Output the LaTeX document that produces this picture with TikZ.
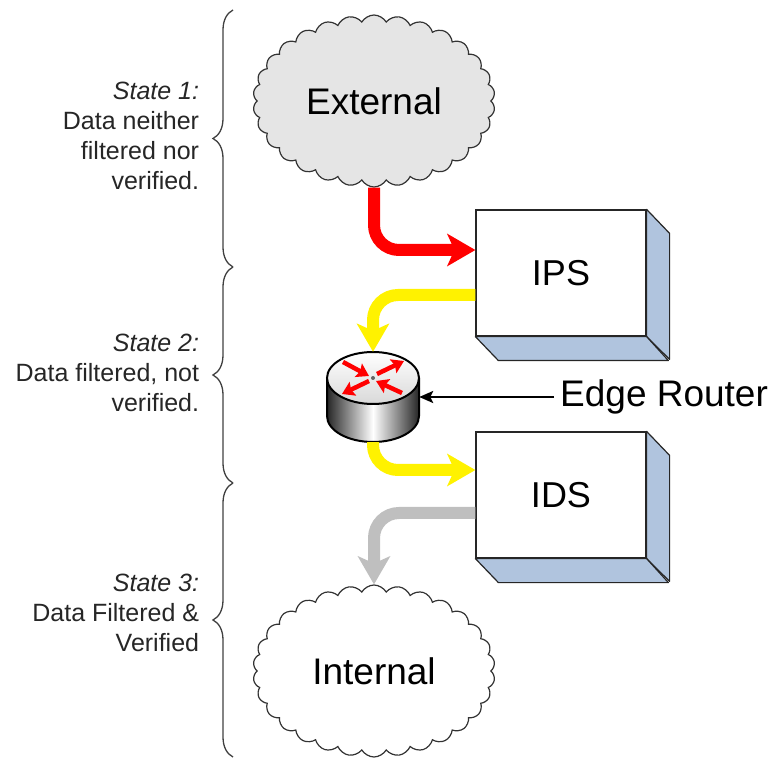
\documentclass[tikz,border=0pt]{standalone}
\usepackage{fontspec}
\setmainfont{Liberation Sans}
\usepackage{xcolor}
\usetikzlibrary{positioning,shapes.symbols,arrows.meta,decorations.pathreplacing}
\definecolor{steel}{HTML}{B0C4DE}

\begin{document}
\begin{tikzpicture}[x=1pt,y=-1pt,inner sep=2mm]
        \tikzset{cloudnode/.style={cloud,cloud puffs=30,cloud puff arc=120,cloud ignores aspect,minimum width=242pt,minimum height=172pt,draw=black!80,line width=1.2pt,inner sep=0pt,font=\fontsize{37}{44}\selectfont}};
        \tikzset{device/.style={rectangle,draw=black!85,line width=1.2pt,fill=white,minimum width=170pt,minimum height=126pt,inner sep=0pt,font=\fontsize{36}{43}\selectfont}};
        \tikzset{side/.style={fill=steel,draw=black!85,line width=1.2pt,line join=round}};
        \tikzset{flow/.style={line width=12pt,rounded corners=25pt,-{Stealth[length=28pt,width=32pt,inset=7pt]}}};
        \tikzset{state/.style={align=right,anchor=east,text=black!85,font=\fontsize{25}{30}\selectfont}};
        \tikzset{stagebrace/.style={decorate,decoration={brace,amplitude=20pt},draw=black!75,line width=1.3pt}};
        \tikzset{redarrow/.style={red,line width=4.5pt,-{Stealth[length=12pt,width=15pt,inset=2pt]}}};

        \useasboundingbox (0,0) rectangle (780,759);

        \node [cloudnode,fill=black!10] (external) at (374,101) {External};
        \node [device] (ips) at (561,273) {IPS};
        \node [device] (ids) at (561,495) {IDS};
        \node [cloudnode,fill=white] (internal) at (374,671) {Internal};
        \node [minimum width=92pt,minimum height=90pt,inner sep=0pt] (router) at (373,397) {};
        \node [font=\fontsize{37}{44}\selectfont,anchor=west,inner sep=6pt] (edge) at (554,397) {Edge Router};

        % 3d sides of the boxes
        \foreach \dev in {ips,ids} {
            \filldraw [side] (\dev.north east) -- ++(23,24) -- ++(0,126) -- (\dev.south east) -- cycle;
            \filldraw [side] (\dev.south west) -- ++(23,24) -- ++(170,0) -- (\dev.south east) -- cycle;
        }

        % router icon
        \begin{scope}[shift={(router.center)},y=1pt]
            \shade [left color=black!85,right color=black!85,middle color=white] (-46,19) -- (-46,-19) arc [start angle=180,end angle=360,x radius=46,y radius=26] -- (46,19) -- cycle;
            \draw [line width=2pt] (-46,19) -- (-46,-19) arc [start angle=180,end angle=360,x radius=46,y radius=26] -- (46,19);
            \shadedraw [top color=white,bottom color=black!15,line width=2pt] (0,19) ellipse [x radius=46,y radius=26];
            \foreach \sx/\sy/\ex/\ey in {-30/35/-4/21, 4/23/31/36, -4/16/-31/3, 29/4/3/16}
                \draw [redarrow] (\sx,\sy) -- (\ex,\ey);
            \fill [black!60] (0,19) circle [radius=2];
        \end{scope}

        \draw [flow,red] (external.south) |- ([yshift=23pt]ips.west);
        \draw [flow,yellow] ([yshift=-22pt]ips.west) -| (router.north);
        \draw [flow,yellow] (router.south) |- ([yshift=25pt]ids.west);
        \draw [flow,black!25] ([yshift=-18pt]ids.west) -| (internal.north);
        \draw [-{Stealth[length=14pt,width=12pt,inset=3pt]},line width=2.5pt] (edge.west) -- (router.east);

        % states
        \draw [stagebrace] (233,267) -- (233,10);
        \draw [stagebrace] (233,483) -- (233,267);
        \draw [stagebrace] (233,757) -- (233,483);
        \node [state] (s1) at (205,136) {\textit{State 1:}\\Data neither\\filtered nor\\verified.};
        \node [state] (s2) at (205,373) {\textit{State 2:}\\Data filtered, not\\verified.};
        \node [state] (s3) at (205,613) {\textit{State 3:}\\Data Filtered \&\\Verified};
    \end{tikzpicture}
\end{document}
